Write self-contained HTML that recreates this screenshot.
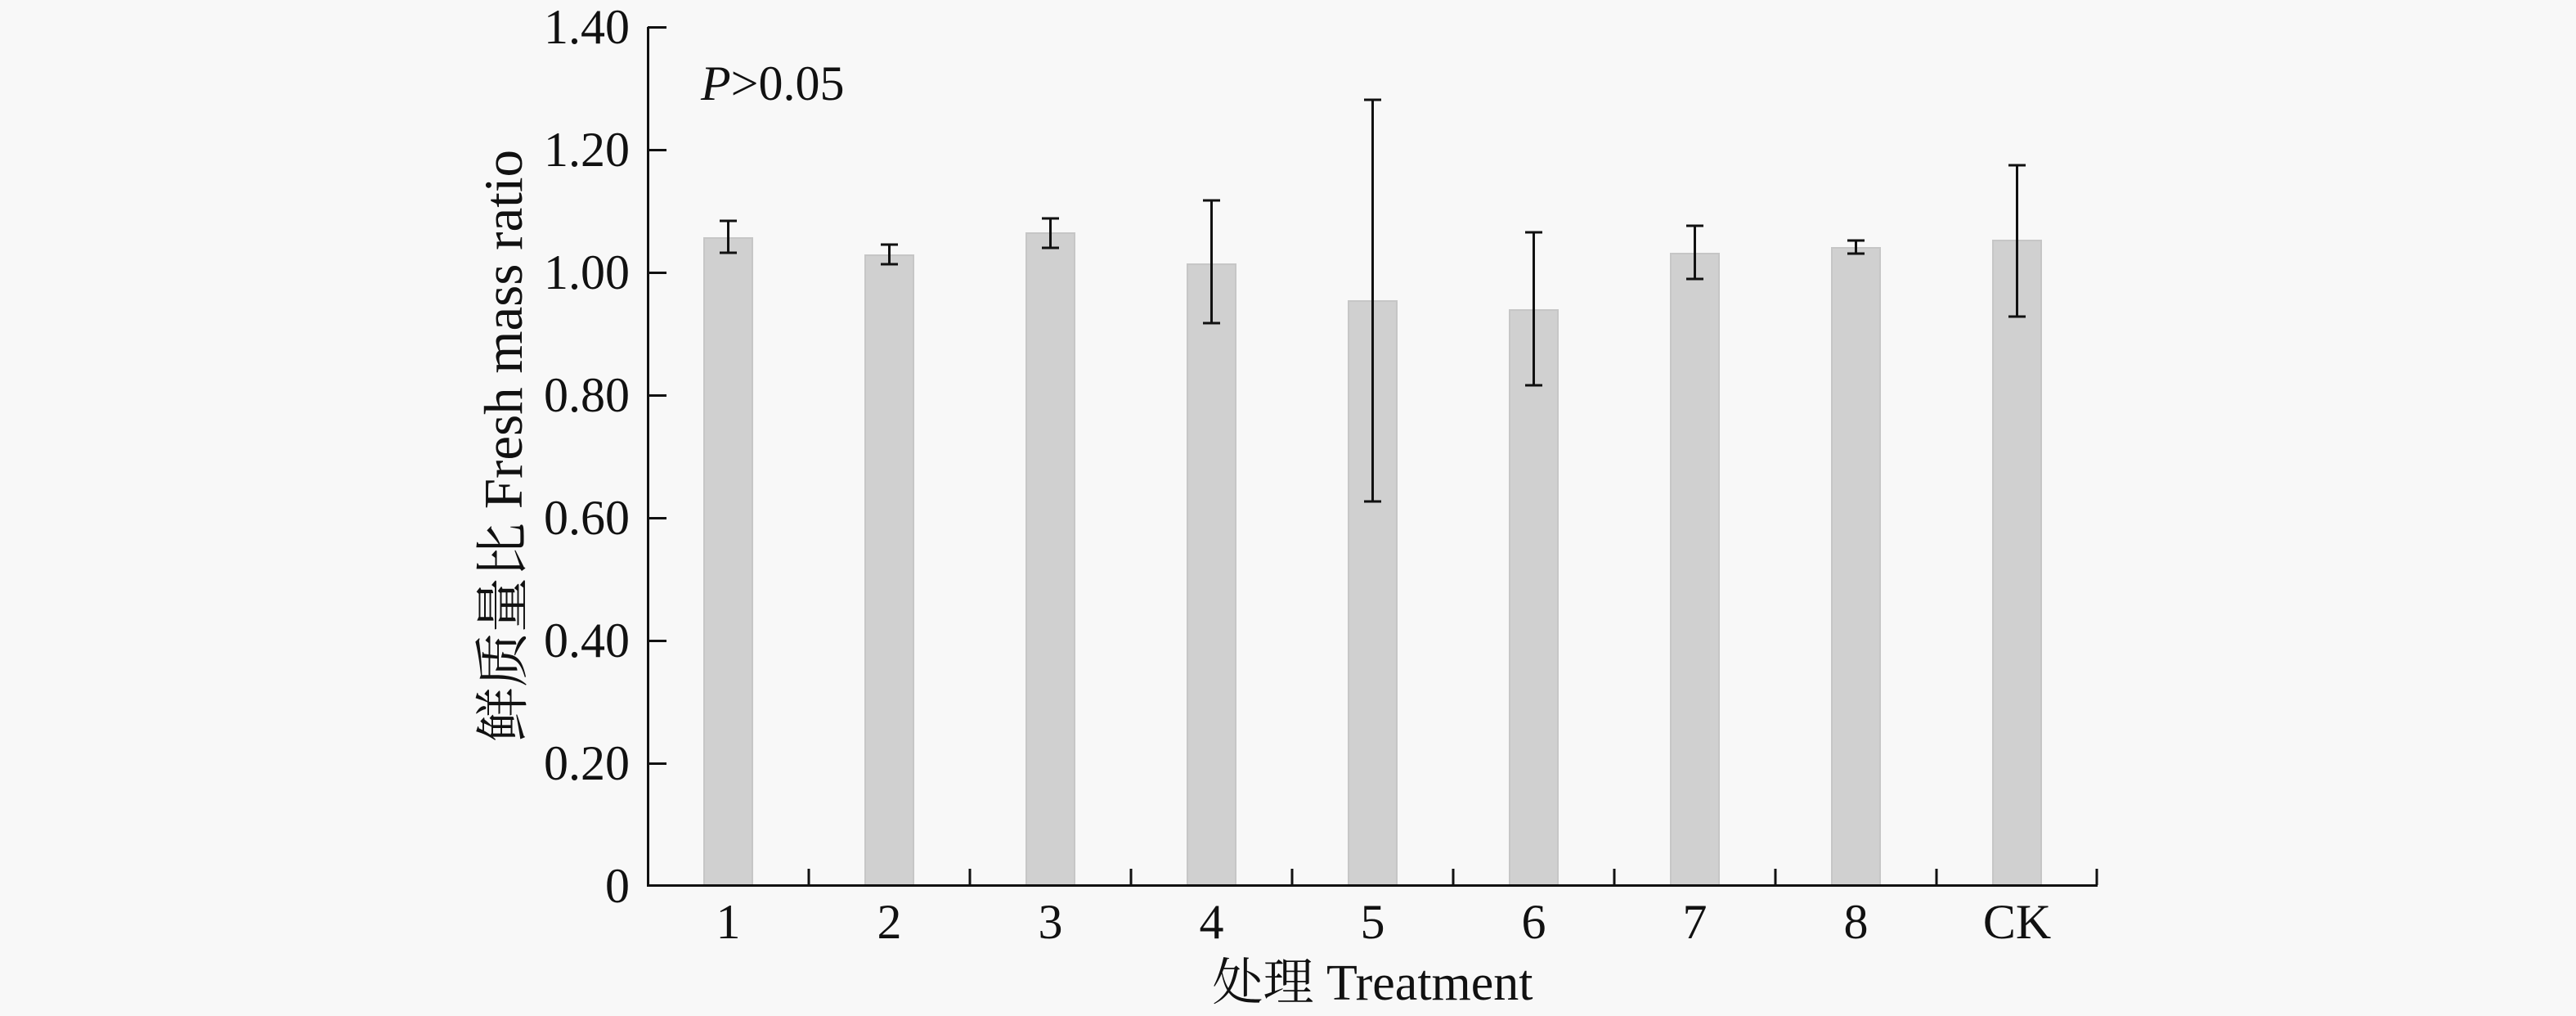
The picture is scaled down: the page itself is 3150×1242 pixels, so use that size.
<!DOCTYPE html>
<html>
<head>
<meta charset="utf-8">
<style>
html,body{margin:0;padding:0;background:#f8f8f8;}
svg{display:block;}
text{font-family:"Liberation Serif","Noto Serif CJK SC","Noto Sans CJK SC",serif;fill:#111;}
</style>
</head>
<body>
<svg width="3150" height="1242" viewBox="0 0 3150 1242" xmlns="http://www.w3.org/2000/svg">
<rect x="0" y="0" width="3150" height="1242" fill="#f8f8f8"/>

<!-- bars -->
<g fill="#d0d0d0" stroke="#c6c6c6" stroke-width="2">
<rect x="861" y="291" width="59" height="791"/>
<rect x="1058" y="312" width="59" height="770"/>
<rect x="1255" y="285" width="59" height="797"/>
<rect x="1452" y="323" width="59" height="759"/>
<rect x="1649" y="368" width="59" height="714"/>
<rect x="1846" y="379" width="59" height="703"/>
<rect x="2043" y="310" width="59" height="772"/>
<rect x="2240" y="303" width="59" height="779"/>
<rect x="2437" y="294" width="59" height="788"/>
</g>

<!-- error bars -->
<g stroke="#111" stroke-width="3" fill="none">
<path d="M890.5 270V309M880 270H901M880 309H901"/>
<path d="M1087.5 299V323M1077 299H1098M1077 323H1098"/>
<path d="M1284.5 267V303M1274 267H1295M1274 303H1295"/>
<path d="M1481.5 245V395M1471 245H1492M1471 395H1492"/>
<path d="M1678.5 122V613M1668 122H1689M1668 613H1689"/>
<path d="M1875.5 284V471M1865 284H1886M1865 471H1886"/>
<path d="M2072.5 276V341M2062 276H2083M2062 341H2083"/>
<path d="M2269.5 294V310M2259 294H2280M2259 310H2280"/>
<path d="M2466.5 202V387M2456 202H2477M2456 387H2477"/>
</g>

<!-- axes -->
<g stroke="#111" stroke-width="3" fill="none">
<path d="M792.5 33V1082.5H2565"/>
<!-- y ticks -->
<path d="M792 33.5H815M792 183.5H815M792 333.5H815M792 483.5H815M792 633.5H815M792 783.5H815M792 933.5H815"/>
<!-- x ticks -->
<path d="M989 1082V1062M1186 1082V1062M1383 1082V1062M1580 1082V1062M1777 1082V1062M1974 1082V1062M2171 1082V1062M2368 1082V1062M2564 1082V1062"/>
</g>

<!-- y tick labels -->
<g font-size="60" text-anchor="end">
<text x="770" y="53">1.40</text>
<text x="770" y="203">1.20</text>
<text x="770" y="353">1.00</text>
<text x="770" y="503">0.80</text>
<text x="770" y="653">0.60</text>
<text x="770" y="803">0.40</text>
<text x="770" y="953">0.20</text>
<text x="770" y="1103">0</text>
</g>

<!-- x tick labels -->
<g font-size="60" text-anchor="middle">
<text x="890.5" y="1147">1</text>
<text x="1087.5" y="1147">2</text>
<text x="1284.5" y="1147">3</text>
<text x="1481.5" y="1147">4</text>
<text x="1678.5" y="1147">5</text>
<text x="1875.5" y="1147">6</text>
<text x="2072.5" y="1147">7</text>
<text x="2269.5" y="1147">8</text>
<text x="2466.5" y="1147">CK</text>
</g>

<!-- P value -->
<text x="857" y="122" font-size="60"><tspan font-style="italic">P</tspan>&gt;0.05</text>

<!-- axis titles -->
<text x="1678.5" y="1222" font-size="62" text-anchor="middle">处理 Treatment</text>
<text transform="translate(638,545) rotate(-90)" font-size="67" text-anchor="middle">鲜质量比 Fresh mass ratio</text>
</svg>
</body>
</html>
